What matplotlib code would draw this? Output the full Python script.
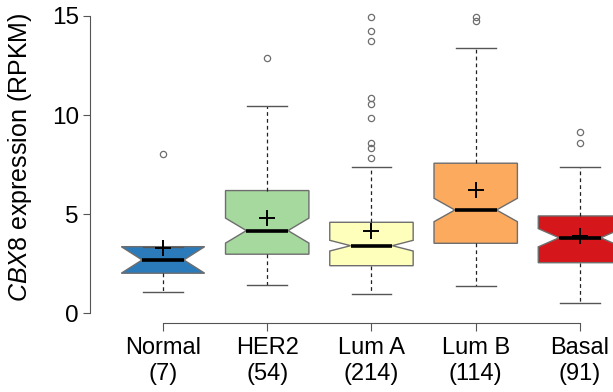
import matplotlib
matplotlib.use('Agg')
import matplotlib.pyplot as plt

plt.rcParams['font.family'] = ['Liberation Sans', 'DejaVu Sans']
plt.rcParams['mathtext.fontset'] = 'custom'
plt.rcParams['mathtext.rm'] = 'Liberation Sans'
plt.rcParams['mathtext.it'] = 'Liberation Sans:italic'

# subtypes and sample sizes
groups = ['Normal', 'HER2', 'Lum A', 'Lum B', 'Basal']
counts = [7, 54, 214, 114, 91]

# box statistics (RPKM)
q1 = [2.02, 2.98, 2.40, 3.53, 2.55]
med = [2.69, 4.17, 3.41, 5.21, 3.81]
q3 = [3.36, 6.19, 4.59, 7.57, 4.91]
notch_lo = [2.02, 3.54, 3.14, 4.62, 3.35]
notch_hi = [3.36, 4.80, 3.68, 5.80, 4.27]
whis_lo = [1.09, 1.43, 0.96, 1.38, 0.53]
whis_hi = [3.36, 10.46, 7.40, 13.40, 7.40]
means = [3.29, 4.79, 4.17, 6.22, 3.90]
outliers = [
    [8.02],
    [12.87],
    [14.93, 14.26, 13.75, 10.85, 10.56, 9.87, 8.61, 8.32, 7.82],
    [14.93, 14.76],
    [9.16, 8.58],
]
colors = ['#2b7bba', '#a6d99e', '#ffffbc', '#fbaa5e', '#d5161b']

stats = []
for i in range(len(groups)):
    stats.append({
        'label': groups[i] + '\n(' + str(counts[i]) + ')',
        'q1': q1[i], 'med': med[i], 'q3': q3[i],
        'cilo': notch_lo[i], 'cihi': notch_hi[i],
        'whislo': whis_lo[i], 'whishi': whis_hi[i],
        'mean': means[i], 'fliers': outliers[i],
    })

fig = plt.figure(figsize=(6.13, 3.92), dpi=100)
ax = fig.add_axes([90 / 613, 0.1753, 1 - 90 / 613, 0.8094])

pos = list(range(1, len(groups) + 1))
bp = ax.bxp(stats, positions=pos, widths=0.8, capwidths=0.38,
            shownotches=True, patch_artist=True, showmeans=True,
            boxprops=dict(edgecolor='#6e6e6e', linewidth=1.0),
            medianprops=dict(color='black', linewidth=2.6, solid_capstyle='butt'),
            whiskerprops=dict(color='#222222', linewidth=0.9, linestyle=(0, (3, 2.5))),
            capprops=dict(color='#555555', linewidth=1.0),
            flierprops=dict(marker='o', markerfacecolor='none', markeredgecolor='#6e6e6e',
                            markersize=4.5, markeredgewidth=0.9),
            meanprops=dict(marker='+', markeredgecolor='black', markersize=11,
                           markeredgewidth=1.4))
for patch, c in zip(bp['boxes'], colors):
    patch.set_facecolor(c)

ax.set_xlim(0.30, 5.317)
ax.set_ylim(-0.505, 15.5)
ax.set_yticks([0, 5, 10, 15])
ax.spines['top'].set_visible(False)
ax.spines['right'].set_visible(False)
ax.spines['left'].set_bounds(0, 15)
ax.spines['bottom'].set_bounds(1, 5)
ax.spines['left'].set_color('#555555')
ax.spines['bottom'].set_color('#555555')
ax.tick_params(axis='y', labelsize=17.5, length=5, pad=3, color='#555555')
ax.tick_params(axis='x', labelsize=17, length=6, pad=4, color='#555555')
for t in ax.get_xticklabels():
    t.set_linespacing(1.2)

ax.set_ylabel(r'$\it{CBX8}$ expression (RPKM)', fontsize=18)
ax.yaxis.set_label_coords(-0.108, 0.5225)

fig.savefig('out.png', dpi=100)
